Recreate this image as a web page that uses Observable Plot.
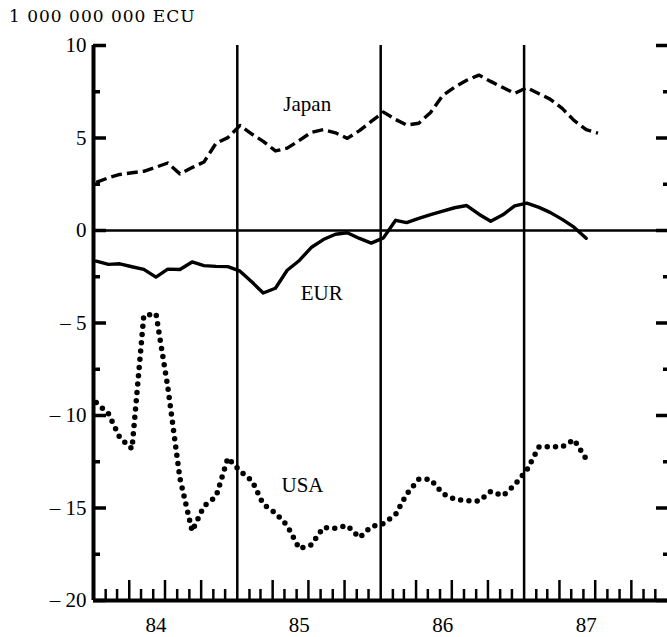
<!DOCTYPE html>
<html>
<head>
<meta charset="utf-8">
<script src="https://cdn.jsdelivr.net/npm/d3@7"></script>
<script src="https://cdn.jsdelivr.net/npm/@observablehq/plot@0.6"></script>
<style>
  body { margin: 0; background: #fff; }
  #title {
    font-family: "DejaVu Serif", serif;
    font-size: 17px;
    letter-spacing: 1px;
    height: 30px;
    box-sizing: border-box;
    padding: 2px 0 0 9px;
    line-height: 28px;
    color: #000;
    white-space: nowrap;
  }
  #chart svg { display: block; }
</style>
</head>
<body>
<div id="title">1 000 000 000 ECU</div>
<div id="chart"></div>
<script>
// Monthly observations (plotted early in each month)
const months = [
  "1984-01","1984-02","1984-03","1984-04","1984-05","1984-06","1984-07","1984-08","1984-09","1984-10","1984-11","1984-12",
  "1985-01","1985-02","1985-03","1985-04","1985-05","1985-06","1985-07","1985-08","1985-09","1985-10","1985-11","1985-12",
  "1986-01","1986-02","1986-03","1986-04","1986-05","1986-06","1986-07","1986-08","1986-09","1986-10","1986-11","1986-12",
  "1987-01","1987-02","1987-03","1987-04","1987-05","1987-06","1987-07"
];

const japan = [2.6, 2.85, 3.03, 3.12, 3.2, 3.42, 3.65, 3.06, 3.4, 3.7, 4.72, 5.02,
               5.68, 5.2, 4.82, 4.3, 4.45, 4.87, 5.3, 5.45, 5.28, 4.98, 5.4, 5.9,
               6.4, 6.0, 5.7, 5.8, 6.38, 7.3, 7.75, 8.12, 8.4, 8.06, 7.73, 7.41,
               7.72, 7.39, 7.1, 6.6, 5.95, 5.45, 5.26];

const eur = [-1.66, -1.83, -1.8, -1.96, -2.1, -2.52, -2.09, -2.11, -1.7, -1.9, -1.94, -1.95,
             -2.2, -2.8, -3.38, -3.12, -2.15, -1.62, -0.92, -0.49, -0.2, -0.12, -0.43, -0.68,
             -0.4, 0.55, 0.43, 0.66, 0.86, 1.05, 1.23, 1.35, 0.88, 0.5, 0.85, 1.33,
             1.48, 1.25, 0.98, 0.6, 0.18, -0.42];

const usa = [-9.3, -9.9, -11.2, -11.8, -4.6, -4.5, -8.45, -13.4, -16.25, -14.9, -14.38, -12.3,
             -13.0, -13.55, -14.8, -15.27, -15.95, -17.2, -17.0, -16.05, -16.1, -15.95, -16.6, -16.0,
             -15.85, -15.35, -14.25, -13.45, -13.45, -14.22, -14.53, -14.6, -14.63, -14.1, -14.34, -13.75,
             -12.95, -11.7, -11.68, -11.7, -11.3, -12.35];

// Series name annotations (in data coordinates)
const labelNames = ["Japan", "EUR", "USA"];
const labelDates = ["1985-06-28", "1985-08-04", "1985-06-16"];
const labelValues = [6.85, -3.38, -13.78];

// Axis ticks
const years = [1984, 1985, 1986, 1987];
const yearLabels = ["84", "85", "86", "87"];
const yMajor = [10, 5, 0, -5, -10, -15, -20];
const yMinor = [7.5, 2.5, -2.5, -7.5, -12.5, -17.5];
const monthShort = [1, 2, 4, 5, 7, 8, 10, 11];
const monthTall = [3, 6, 9];

const toDate = s => { const [y, m, d] = s.split("-").map(Number); return new Date(Date.UTC(y, m - 1, d || 8)); };
const rows = vals => vals.map((v, i) => ({date: toDate(months[i]), value: v}));

const x0 = new Date(Date.UTC(1984, 0, 1));
const x1 = new Date(Date.UTC(1988, 0, 1));
const yearStarts = years.slice(1).map(y => new Date(Date.UTC(y, 0, 1)));
const shortTicks = years.flatMap(y => monthShort.map(m => new Date(Date.UTC(y, m, 1))));
const tallTicks = years.flatMap(y => monthTall.map(m => new Date(Date.UTC(y, m, 1))));
const yearLabelPos = years.map(y => new Date(Date.UTC(y, 5, 8)));
const labelRows = labelNames.map((n, i) => ({name: n, date: toDate(labelDates[i]), value: labelValues[i]}));

const fmtY = d => d < 0 ? "\u2013 " + (-d) : String(d);
const fmtX = d => yearLabels[years.indexOf(d.getUTCFullYear())];

const chart = Plot.plot({
  width: 667,
  height: 607,
  marginTop: 15,
  marginBottom: 37,
  marginLeft: 93,
  marginRight: 0,
  style: {fontFamily: '"Liberation Serif", serif', background: "#fff", color: "#000"},
  x: {type: "utc", domain: [x0, x1], label: null},
  y: {domain: [-20, 10], label: null},
  marks: [
    Plot.ruleY([0], {strokeWidth: 2.5}),
    Plot.ruleX(yearStarts, {strokeWidth: 2.5}),
    Plot.ruleX([x0], {strokeWidth: 4}),
    Plot.ruleY([-20], {strokeWidth: 4}),
    // left axis ticks (inward)
    Plot.axisY(yMajor, {anchor: "left", tickSize: -13, strokeWidth: 3.5, fill: "none", label: null}),
    Plot.axisY(yMinor, {anchor: "left", tickSize: -7, strokeWidth: 3.5, fill: "none", label: null}),
    Plot.axisY(yMajor, {anchor: "left", tickSize: 0, tickPadding: 7, tickFormat: fmtY, fontSize: 21, label: null}),
    // right axis ticks (inward)
    Plot.axisY(yMajor, {anchor: "right", tickSize: -12, strokeWidth: 3.5, fill: "none", label: null}),
    Plot.axisY(yMinor, {anchor: "right", tickSize: -5, strokeWidth: 3.5, fill: "none", label: null}),
    // bottom month ticks (inward)
    Plot.axisX(shortTicks, {anchor: "bottom", tickSize: -11, strokeWidth: 2.5, fill: "none", label: null}),
    Plot.axisX(tallTicks, {anchor: "bottom", tickSize: -20, strokeWidth: 2.5, fill: "none", label: null}),
    Plot.axisX(yearLabelPos, {anchor: "bottom", tickSize: 0, tickPadding: 17, tickFormat: fmtX, fontSize: 21, label: null}),
    // series
    Plot.line(rows(japan), {x: "date", y: "value", strokeWidth: 3.4, strokeDasharray: "11,5", strokeLinecap: "butt"}),
    Plot.line(rows(eur), {x: "date", y: "value", strokeWidth: 3.4}),
    Plot.line(rows(usa), {x: "date", y: "value", strokeWidth: 5.5, strokeDasharray: "0,8.3", strokeLinecap: "round"}),
    Plot.text(labelRows, {x: "date", y: "value", text: "name", fontSize: 21})
  ]
});
document.getElementById("chart").appendChild(chart);
</script>
</body>
</html>
